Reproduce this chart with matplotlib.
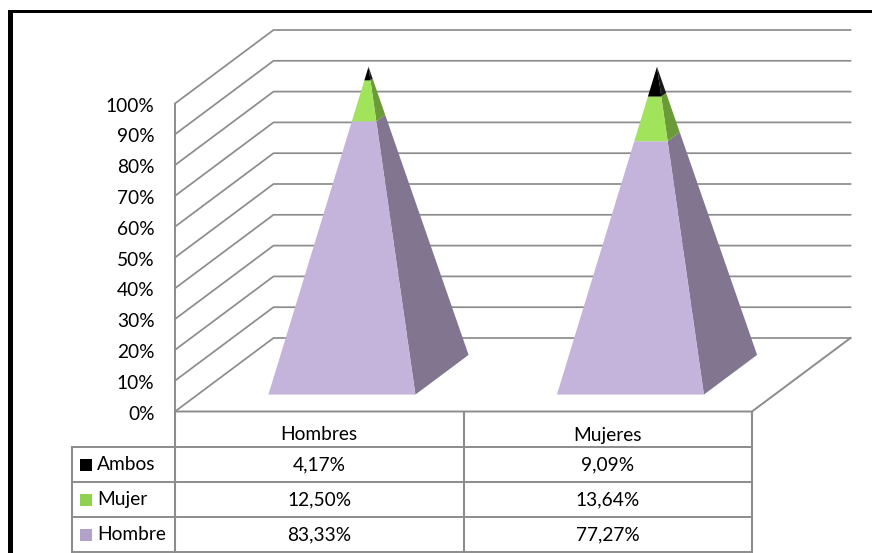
import matplotlib
matplotlib.use("Agg")
import matplotlib.pyplot as plt
from matplotlib.patches import Polygon, Rectangle

plt.rcParams["font.family"] = ["Lato", "DejaVu Sans"]

categories = ["Hombres", "Mujeres"]
series_names = ["Hombre", "Mujer", "Ambos"]
hombre = [83.33, 77.27]
mujer = [12.50, 13.64]
ambos = [4.17, 9.09]
hombre_labels = ["83,33%", "77,27%"]
mujer_labels = ["12,50%", "13,64%"]
ambos_labels = ["4,17%", "9,09%"]
y_ticks = [0, 10, 20, 30, 40, 50, 60, 70, 80, 90, 100]

front_colors = ["#C4B4DC", "#A2E35C", "#000000"]
side_colors = ["#82758F", "#6B9B38", "#1A1A1A"]
legend_colors = ["#B3A2C7", "#92D050", "#000000"]
grid_color = "#8C8C8C"
font_size = 13.8

# pixel layout of the 3d box
x0 = 175
x1 = 752
y_zero = 411.5
y_per_unit = 3.08
depth_x = 98.5
depth_y = -73.5
cat_width = (x1 - x0) / len(categories)
half_width = 73.5
half_depth = 0.27


def project(x, value, depth):
    # x in category units, value in percent, depth from 0 (front) to 1 (back)
    px = x0 + x * cat_width + depth * depth_x
    py = y_zero - value * y_per_unit + depth * depth_y
    return px, py


def level_corners(i, value):
    # right/left corners of the pyramid section at a given height
    s = 1 - value / 100
    dx = half_width / cat_width * s
    dd = half_depth * s
    c = i + 0.5
    return {
        "fl": project(c - dx, value, 0.5 - dd),
        "fr": project(c + dx, value, 0.5 - dd),
        "br": project(c + dx, value, 0.5 + dd),
    }


fig = plt.figure(figsize=(8.72, 5.53), dpi=100)
ax = fig.add_axes([0, 0, 1, 1])
ax.set_xlim(0, 872)
ax.set_ylim(553, 0)
ax.axis("off")

# black frame, only top and left show
ax.add_patch(Rectangle((8.3, 10), 5, 543, color="black", lw=0))
ax.add_patch(Rectangle((8.3, 10), 864, 3.3, color="black", lw=0))

# walls
for t in y_ticks:
    a = project(0, t, 0)
    b = project(0, t, 1)
    c = project(len(categories), t, 1)
    ax.plot([a[0], b[0], c[0]], [a[1], b[1], c[1]], color=grid_color, lw=1.25, zorder=1)
    ax.text(a[0] - 20.5, a[1] + 2.5, f"{t}%", ha="right", va="center", fontsize=font_size, color="black")

# floor front edge and right edge
a = project(0, 0, 0)
b = project(len(categories), 0, 0)
c = project(len(categories), 0, 1)
ax.plot([a[0], b[0], c[0]], [a[1], b[1], c[1]], color=grid_color, lw=1.4, zorder=1)

# pyramids
stacks = [hombre, mujer, ambos]
for i in range(len(categories)):
    bottom = 0
    for j, values in enumerate(stacks):
        top = bottom + values[i]
        lo = level_corners(i, bottom)
        hi = level_corners(i, top)
        ax.add_patch(Polygon([lo["fr"], lo["br"], hi["br"], hi["fr"]], color=side_colors[j], lw=0, zorder=2))
        ax.add_patch(Polygon([lo["fl"], lo["fr"], hi["fr"], hi["fl"]], color=front_colors[j], lw=0, zorder=3 + j))
        bottom = top

# data table
row_lines = [411.5, 447, 482, 517, 552]
table_left = 72
for y in row_lines[1:]:
    ax.plot([table_left, x1], [y, y], color=grid_color, lw=1.4, zorder=1)
for x in [table_left, x0, x0 + cat_width, x1]:
    top_y = row_lines[1] if x == table_left else row_lines[0]
    ax.plot([x, x], [top_y, row_lines[-1]], color=grid_color, lw=1.5, zorder=1)
ax.plot([x0, x0], [project(0, 100, 0)[1], y_zero], color=grid_color, lw=1.4, zorder=1)

for i, name in enumerate(categories):
    cx = x0 + (i + 0.5) * cat_width
    ax.text(cx, 435, name, ha="center", va="center", fontsize=font_size, color="black")
    ax.text(cx, 465, ambos_labels[i], ha="center", va="center", fontsize=font_size, color="black")
    ax.text(cx, 500, mujer_labels[i], ha="center", va="center", fontsize=font_size, color="black")
    ax.text(cx, 535, hombre_labels[i], ha="center", va="center", fontsize=font_size, color="black")

# legend keys inside the table
key_rows = [535, 500, 465]
for name, color, y in zip(series_names, legend_colors, key_rows):
    ax.add_patch(Rectangle((80, y - 6.5), 12, 12, color=color, lw=0))
    ax.text(97, y, name, ha="left", va="center", fontsize=font_size, color="black")

fig.savefig("out.png", dpi=100)
